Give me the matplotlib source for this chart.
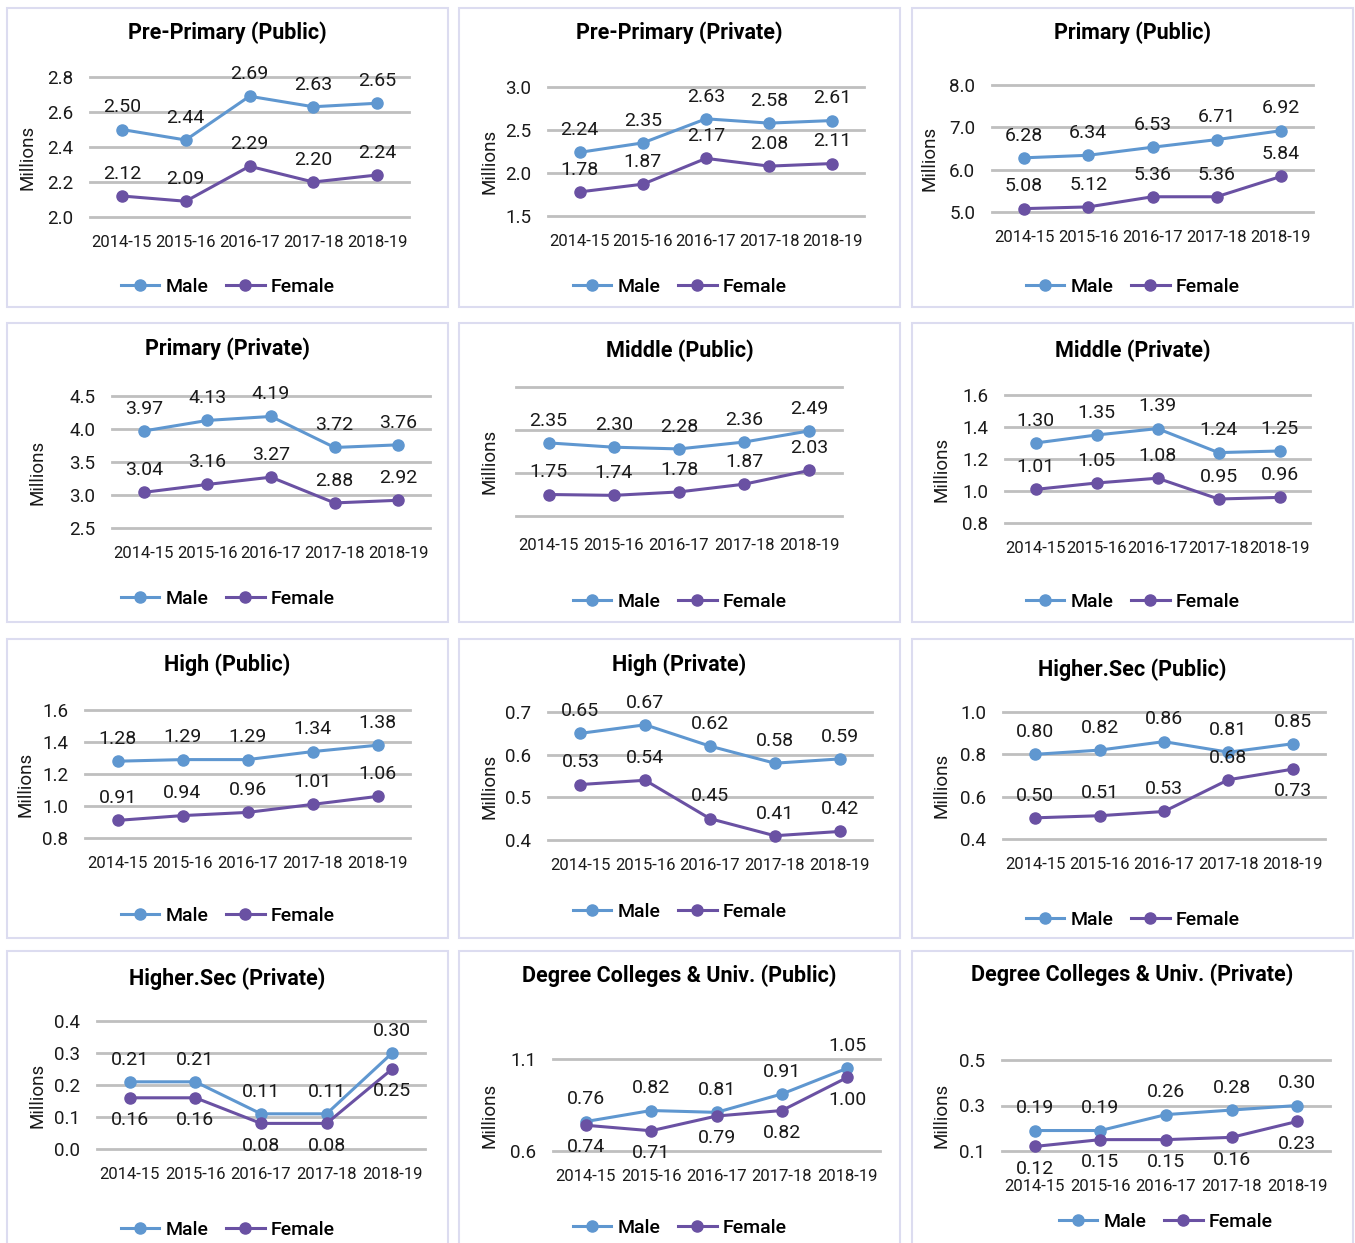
import matplotlib.pyplot as plt
from matplotlib.patches import Rectangle
from matplotlib.lines import Line2D

plt.rcParams['font.family'] = ['Roboto', 'DejaVu Sans']

# ---- data (millions) ----
years = ["2014-15", "2015-16", "2016-17", "2017-18", "2018-19"]

titles = [
    "Pre-Primary (Public)", "Pre-Primary (Private)", "Primary (Public)",
    "Primary (Private)", "Middle (Public)", "Middle (Private)",
    "High (Public)", "High (Private)", "Higher.Sec (Public)",
    "Higher.Sec (Private)", "Degree Colleges & Univ. (Public)",
    "Degree Colleges & Univ. (Private)",
]

male = [
    [2.50, 2.44, 2.69, 2.63, 2.65],
    [2.24, 2.35, 2.63, 2.58, 2.61],
    [6.28, 6.34, 6.53, 6.71, 6.92],
    [3.97, 4.13, 4.19, 3.72, 3.76],
    [2.35, 2.30, 2.28, 2.36, 2.49],
    [1.30, 1.35, 1.39, 1.24, 1.25],
    [1.28, 1.29, 1.29, 1.34, 1.38],
    [0.65, 0.67, 0.62, 0.58, 0.59],
    [0.80, 0.82, 0.86, 0.81, 0.85],
    [0.21, 0.21, 0.11, 0.11, 0.30],
    [0.76, 0.82, 0.81, 0.91, 1.05],
    [0.19, 0.19, 0.26, 0.28, 0.30],
]

female = [
    [2.12, 2.09, 2.29, 2.20, 2.24],
    [1.78, 1.87, 2.17, 2.08, 2.11],
    [5.08, 5.12, 5.36, 5.36, 5.84],
    [3.04, 3.16, 3.27, 2.88, 2.92],
    [1.75, 1.74, 1.78, 1.87, 2.03],
    [1.01, 1.05, 1.08, 0.95, 0.96],
    [0.91, 0.94, 0.96, 1.01, 1.06],
    [0.53, 0.54, 0.45, 0.41, 0.42],
    [0.50, 0.51, 0.53, 0.68, 0.73],
    [0.16, 0.16, 0.08, 0.08, 0.25],
    [0.74, 0.71, 0.79, 0.82, 1.00],
    [0.12, 0.15, 0.15, 0.16, 0.23],
]

yticks = [
    [2.0, 2.2, 2.4, 2.6, 2.8],
    [1.5, 2.0, 2.5, 3.0],
    [5.0, 6.0, 7.0, 8.0],
    [2.5, 3.0, 3.5, 4.0, 4.5],
    [1.5, 2.0, 2.5, 3.0],
    [0.8, 1.0, 1.2, 1.4, 1.6],
    [0.8, 1.0, 1.2, 1.4, 1.6],
    [0.4, 0.5, 0.6, 0.7],
    [0.4, 0.6, 0.8, 1.0],
    [0.0, 0.1, 0.2, 0.3, 0.4],
    [0.6, 1.1],
    [0.1, 0.3, 0.5],
]
show_ytick_labels = [True] * 12
show_ytick_labels[4] = False

# ---- layout (pixels in the 1355x1243 canvas) ----
W, H = 1355, 1243
# plot area: x0, x1, ytop, ybottom
plot_px = [
    (90, 409, 77, 217), (548, 864, 87, 216), (992, 1313, 85, 212),
    (112, 430, 396, 528), (516, 842, 387, 516), (1005, 1310, 395, 523),
    (85, 410, 710, 838), (548, 872, 712, 840), (1003, 1325, 712, 839),
    (97, 425, 1021, 1149), (553, 880, 1059, 1151), (1002, 1330, 1060, 1151),
]
title_y = [33, 33, 33, 349, 351, 351, 665, 665, 670, 979, 976, 975]
legend_y = [287, 287, 287, 599, 602, 602, 916, 912, 920, 1230, 1228, 1222]
ylabel_x = [28, 489, 930, 38, 490, 942, 26, 490, 942, 37, 490, 941]
xtick_pad = [13, 13, 13, 13, 16, 13, 13, 13, 13, 13, 13, 20]
col_x = [7, 459, 912]
row_y = [8, 323, 639, 951]
box_w, box_h = 441, 299

# label side for female points: 1 above, -1 below
female_side = [
    [1] * 5, [1] * 5, [1] * 5, [1] * 5, [1] * 5, [1] * 5,
    [1] * 5, [1] * 5, [1, 1, 1, 1, -1], [-1] * 5, [-1] * 5, [-1] * 5,
]

male_color = '#5F97D0'
female_color = '#6A51A3'
grid_color = '#BFBFBF'
text_color = '#1A1A1A'

fig = plt.figure(figsize=(W / 100, H / 100), dpi=100)

for i in range(12):
    r, c = divmod(i, 3)
    bx, by = col_x[c], row_y[r]
    fig.add_artist(Rectangle((bx / W, 1 - (by + box_h) / H), box_w / W, box_h / H,
                             transform=fig.transFigure, fill=False,
                             edgecolor='#DCDCF0', linewidth=1.5))

    x0, x1, yt, yb = plot_px[i]
    ax = fig.add_axes([x0 / W, 1 - yb / H, (x1 - x0) / W, (yb - yt) / H])
    ticks = yticks[i]
    ax.set_ylim(ticks[0], ticks[-1])
    ax.set_xlim(-0.5, 4.5)
    for t in ticks:
        ax.axhline(t, color=grid_color, linewidth=2, zorder=0, clip_on=False)
    for s in ax.spines.values():
        s.set_visible(False)

    xs = range(len(years))
    ax.plot(xs, male[i], color=male_color, linewidth=2.2, marker='o',
            markersize=8, zorder=3, clip_on=False)
    ax.plot(xs, female[i], color=female_color, linewidth=2.2, marker='o',
            markersize=8, zorder=3, clip_on=False)

    for k in xs:
        ax.annotate(f"{male[i][k]:.2f}", (k, male[i][k]), xytext=(0, 16),
                    textcoords='offset points', ha='center', va='center',
                    fontsize=14, color=text_color)
        ax.annotate(f"{female[i][k]:.2f}", (k, female[i][k]),
                    xytext=(0, 16 * female_side[i][k]),
                    textcoords='offset points', ha='center', va='center',
                    fontsize=14, color=text_color)

    ax.set_xticks(list(xs))
    ax.set_xticklabels(years, fontsize=12, color=text_color)
    ax.set_yticks(ticks)
    if show_ytick_labels[i]:
        ax.set_yticklabels([f"{t:.1f}" for t in ticks], fontsize=13.5, color=text_color)
    else:
        ax.set_yticklabels([])
    ax.tick_params(axis='x', length=0, pad=xtick_pad[i])
    ax.tick_params(axis='y', length=0, pad=12)
    ax.set_facecolor('none')

    fig.text((bx + box_w / 2) / W, 1 - title_y[i] / H, titles[i], ha='center',
             va='center', fontsize=15.5, fontweight='bold', color='black')
    fig.text(ylabel_x[i] / W, 1 - ((yt + yb) / 2 + 10) / H, "Millions",
             rotation=90, ha='center', va='center', fontsize=13.5, color=text_color)

    handles = [
        Line2D([], [], color=male_color, linewidth=2.2, marker='o', markersize=8),
        Line2D([], [], color=female_color, linewidth=2.2, marker='o', markersize=8),
    ]
    lx = bx + box_w / 2 + (33 if i == 11 else 0)
    fig.legend(handles, ["Male", "Female"], loc='center',
               bbox_to_anchor=(lx / W, 1 - legend_y[i] / H), ncol=2, frameon=False,
               prop={'size': 14, 'weight': 'medium'}, handlelength=2.0,
               handletextpad=0.3, columnspacing=0.9, borderpad=0)

fig.savefig("out.png", dpi=100, facecolor='white')
